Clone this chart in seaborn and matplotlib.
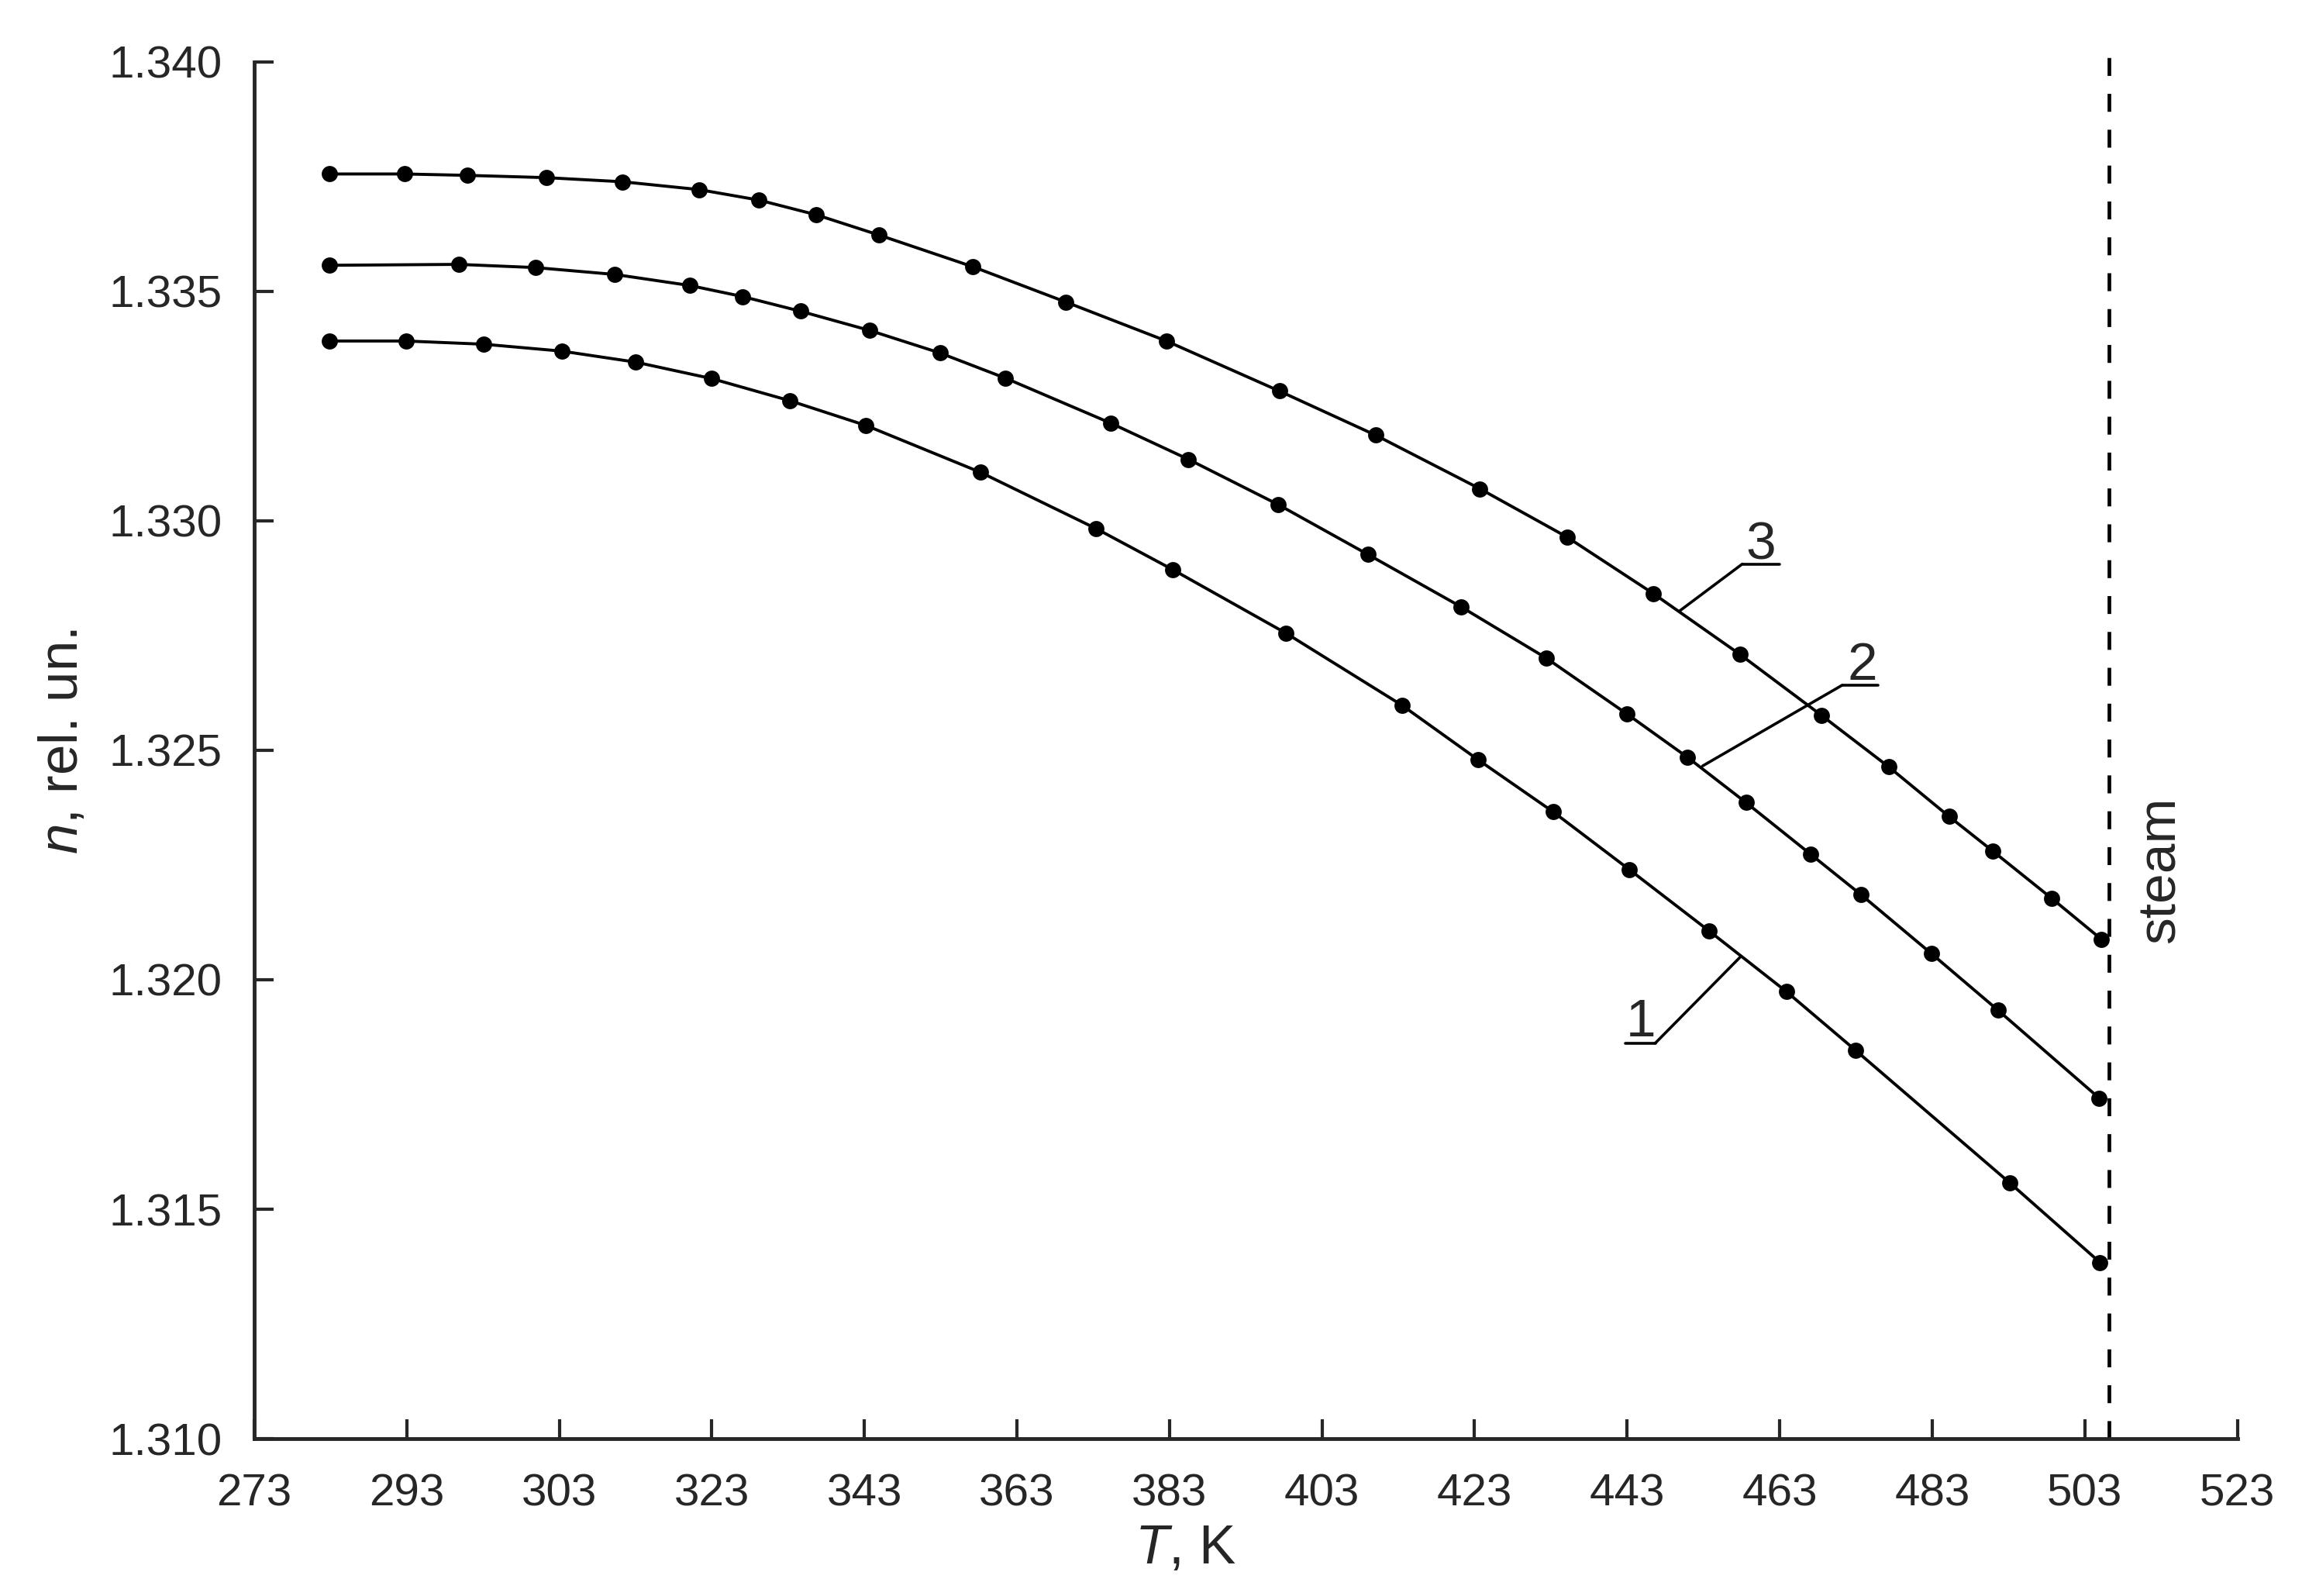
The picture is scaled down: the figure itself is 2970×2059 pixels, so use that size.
import numpy as np
import pandas as pd
import matplotlib
matplotlib.use('Agg')
import matplotlib.pyplot as plt
import seaborn as sns

# x is in axis units: tick i sits at 273 + 20*i, labels copied as printed on the original
tick_pos = [273 + 20 * i for i in range(14)]
tick_labels = ['273', '293', '303', '323', '343', '363', '383', '403',
               '423', '443', '463', '483', '503', '523']
y_ticks = [1.310, 1.315, 1.320, 1.325, 1.330, 1.335, 1.340]

T1 = [282.9, 292.9, 303.1, 313.3, 323.0, 333.0, 343.2, 353.2, 368.2, 383.4, 393.4,
      408.3, 423.5, 433.5, 443.3, 453.3, 463.7, 473.9, 482.9, 503.2, 515.0]
n1 = [1.33392, 1.33392, 1.33385, 1.33370, 1.33346, 1.33310, 1.33262, 1.33208, 1.33106,
      1.32983, 1.32894, 1.32755, 1.32598, 1.32479, 1.32366, 1.32240, 1.32107, 1.31974,
      1.31847, 1.31557, 1.31384]

T2 = [282.9, 299.8, 309.9, 320.3, 330.1, 337.0, 344.6, 353.7, 362.9, 371.5, 385.3, 395.5,
      407.2, 419.0, 431.2, 442.4, 453.0, 460.9, 468.6, 477.1, 483.7, 492.9, 501.6, 514.9]
n2 = [1.33557, 1.33559, 1.33552, 1.33537, 1.33513, 1.33489, 1.33457, 1.33415, 1.33366,
      1.33311, 1.33213, 1.33134, 1.33036, 1.32927, 1.32813, 1.32701, 1.32579, 1.32485,
      1.32386, 1.32273, 1.32185, 1.32057, 1.31934, 1.31742]

T3 = [282.9, 292.7, 300.9, 311.3, 321.3, 331.3, 339.2, 346.7, 354.9, 367.2, 379.4, 392.6,
      407.4, 420.0, 433.7, 445.1, 456.4, 467.8, 478.5, 487.3, 495.2, 500.9, 508.7, 515.2]
n3 = [1.33756, 1.33756, 1.33753, 1.33748, 1.33739, 1.33722, 1.33699, 1.33667, 1.33623,
      1.33554, 1.33477, 1.33392, 1.33283, 1.33187, 1.33070, 1.32965, 1.32842, 1.32709,
      1.32576, 1.32464, 1.32356, 1.32281, 1.32177, 1.32088]

steam_T = 516.2

# curve labels: text anchor, underline span, leader line end
lab_names = ['1', '2', '3']
lab_text_xy = [(454.8, 1.31877), (483.8, 1.32654), (470.5, 1.32916)]
lab_under_x = [(452.8, 456.7), (481.2, 485.9), (468.1, 473.0)]
lab_under_y = [1.31862, 1.32642, 1.32906]
lab_leader_start = [(456.7, 1.31862), (481.2, 1.32642), (468.1, 1.32906)]
lab_leader_end = [(467.8, 1.32049), (462.9, 1.32466), (459.9, 1.32804)]

sns.set_style('ticks')
plt.rcParams['font.family'] = ['Liberation Sans', 'DejaVu Sans']
plt.rcParams['mathtext.fontset'] = 'custom'
plt.rcParams['mathtext.rm'] = 'Liberation Sans'
plt.rcParams['mathtext.it'] = 'Liberation Sans:italic'

df = pd.concat([
    pd.DataFrame({'T': T1, 'n': n1, 'curve': '1'}),
    pd.DataFrame({'T': T2, 'n': n2, 'curve': '2'}),
    pd.DataFrame({'T': T3, 'n': n3, 'curve': '3'}),
], ignore_index=True)

fig = plt.figure(figsize=(29.7, 20.59), dpi=100)
ax = fig.add_axes([0.11044, 0.09859, 0.86145, 0.86256])

sns.lineplot(data=df, x='T', y='n', hue='curve', palette=['black'] * 3,
             estimator=None, sort=False, marker='o', markersize=15,
             markeredgewidth=0, linewidth=2.8, legend=False, ax=ax)

# steam boundary
ax.plot([steam_T, steam_T], [1.310, 1.3404], color='black', lw=3.4,
        dashes=(4.9, 4.9), clip_on=False)
ax.text(522.9, 1.32239, 'steam', rotation=90, ha='center', va='center', fontsize=50)

for name, (tx, ty), (ux0, ux1), uy, (sx, sy), (ex, ey) in zip(
        lab_names, lab_text_xy, lab_under_x, lab_under_y, lab_leader_start, lab_leader_end):
    ax.text(tx, ty, name, ha='center', va='baseline', fontsize=50)
    ax.plot([ux0, ux1], [uy, uy], color='black', lw=2.6)
    ax.plot([sx, ex], [sy, ey], color='black', lw=2.6)

ax.set_xlim(273, 533)
ax.set_ylim(1.310, 1.340)
ax.set_xticks(tick_pos)
ax.set_xticklabels(tick_labels)
ax.set_yticks(y_ticks)
ax.set_yticklabels([f'{v:.3f}' for v in y_ticks])

sns.despine(ax=ax)
for side in ['left', 'bottom']:
    ax.spines[side].set_linewidth(3.5)
ax.tick_params(axis='both', direction='in', length=18, width=3, labelsize=42)
ax.tick_params(axis='x', pad=32)
ax.tick_params(axis='y', pad=30)

ax.set_xlabel('$T$, K', fontsize=51)
ax.set_ylabel('$n$, rel. un.', fontsize=51)
ax.xaxis.set_label_coords(0.4698, -0.062)
ax.yaxis.set_label_coords(-0.0833, 0.5064)

fig.savefig('out.png', dpi=100, facecolor='white')
